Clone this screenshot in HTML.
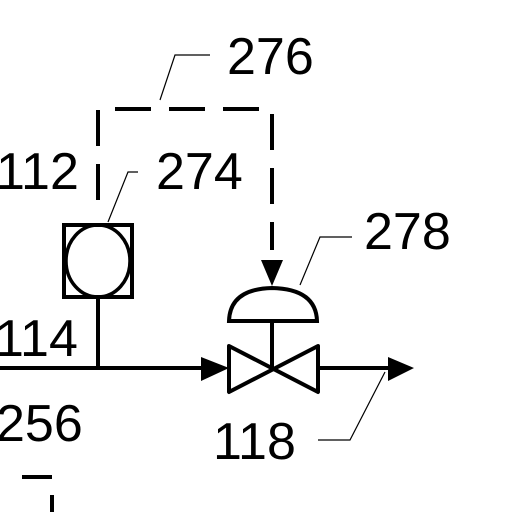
<!DOCTYPE html><html><head><style>body{margin:0;background:#fff}</style></head><body>
<svg width="512" height="512" viewBox="0 0 512 512" xmlns="http://www.w3.org/2000/svg" style="display:block">
<g font-family="Liberation Sans, sans-serif" font-size="52" fill="#000">
<text x="227" y="74">276</text>
<text x="-4" y="189">112</text>
<text x="156" y="189">274</text>
<text x="364" y="249">278</text>
<text x="-5" y="356">114</text>
<text x="-4" y="441">256</text>
<text x="213" y="459">118</text>
</g>
<g stroke="#000" fill="none">
<path d="M98 200 V109 H272 V250" stroke-width="4" stroke-dasharray="36 18"/>
<path d="M160 100 L175 55 H210 M108 222 L128 172 H138 M300 285 L320 237 H352 M318 440 H350 L385 372" stroke-width="1.2"/>
<rect x="64" y="225" width="68" height="72" stroke-width="4"/>
<ellipse cx="98" cy="261" rx="32" ry="36" stroke-width="3.5"/>
<path d="M98 297 V368 M0 368 H205 M318 368 H392 M272 322 V368" stroke-width="4"/>
<path d="M229 346 L318 392 V346 L229 392 Z" stroke-width="4" stroke-linejoin="round"/>
<path d="M229 321 H317 Q316 289 272 288 Q230 289 229 321 Z" stroke-width="4"/>
<path d="M22 477 H52 M52 495 V512" stroke-width="4"/>
</g>
<g fill="#000">
<path d="M201 357 L229 368 L201 381 Z"/>
<path d="M388 357 L414 368 L388 381 Z"/>
<path d="M261 260 L283 260 L272 286 Z"/>
</g>
</svg></body></html>
